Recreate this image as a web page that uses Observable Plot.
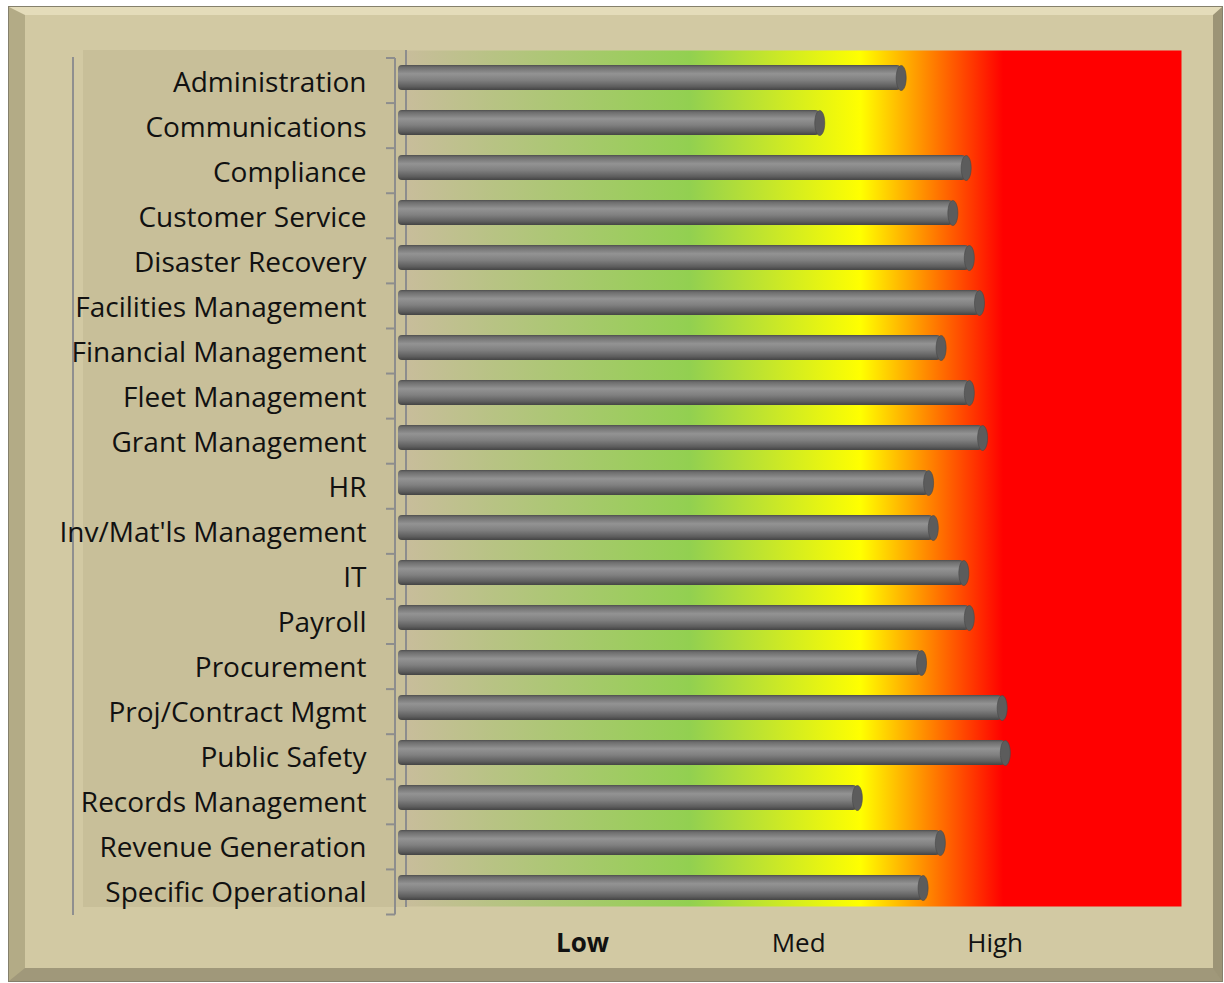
<!DOCTYPE html>
<html>
<head>
<meta charset="utf-8">
<script src="https://cdn.jsdelivr.net/npm/d3@7"></script>
<script src="https://cdn.jsdelivr.net/npm/@observablehq/plot@0.6"></script>
<style>
  html, body { margin: 0; padding: 0; background: #ffffff; }
  #wrap { position: relative; width: 1224px; height: 983px; overflow: hidden; font-family: "Open Sans", sans-serif; }
  #frame { position: absolute; left: 9px; top: 7px; width: 1213px; height: 974px; box-sizing: border-box;
           background: #d2c9a3; border-style: solid; border-width: 8px 9px 13px 16px;
           border-color: #e4dcba #9c9476 #a0987a #b3ab86; box-shadow: 0 0 0 1px #85806c; }
  #panel { position: absolute; left: 83px; top: 50px; width: 323px; height: 857px; background: #c8bf99; }
  #vline { position: absolute; left: 72px; top: 57px; width: 2px; height: 858px; background: #8f8f8f; }
  #chart { position: absolute; left: 0; top: 0; }
</style>
</head>
<body>
<svg width="0" height="0" style="position:absolute">
  <defs>
    <linearGradient id="bgGrad" x1="0" y1="0" x2="1" y2="0">
      <stop offset="0" stop-color="#c8bd9b"/>
      <stop offset="0.366" stop-color="#92d050"/>
      <stop offset="0.586" stop-color="#ffff00"/>
      <stop offset="0.77" stop-color="#ff0000"/>
      <stop offset="1" stop-color="#ff0000"/>
    </linearGradient>
    <linearGradient id="barGrad" x1="0" y1="0" x2="0" y2="1">
      <stop offset="0" stop-color="#4e4e4e"/>
      <stop offset="0.08" stop-color="#6c6c6c"/>
      <stop offset="0.35" stop-color="#939393"/>
      <stop offset="0.6" stop-color="#808080"/>
      <stop offset="0.86" stop-color="#5e5e5e"/>
      <stop offset="1" stop-color="#444444"/>
    </linearGradient>
  </defs>
</svg>
<div id="wrap">
  <div id="frame"></div>
  <div id="panel"></div>
  <div id="vline"></div>
  <div id="chart"></div>
</div>
<script>
const categories = [
  "Administration", "Communications", "Compliance", "Customer Service", "Disaster Recovery",
  "Facilities Management", "Financial Management", "Fleet Management", "Grant Management", "HR",
  "Inv/Mat'ls Management", "IT", "Payroll", "Procurement", "Proj/Contract Mgmt",
  "Public Safety", "Records Management", "Revenue Generation", "Specific Operational"
];
const values = [64.2, 53.8, 72.5, 70.8, 72.9, 74.2, 69.3, 72.9, 74.6, 67.7, 68.3, 72.2, 72.9, 66.8, 77.1, 77.5, 58.6, 69.2, 67.0];
const tickValues = [23.5, 51.1, 76.2];
const tickLabels = ["Low", "Med", "High"];

const data = categories.map((c, i) => ({category: c, value: values[i]}));

// elliptical end cap of the cylinder
const ellipseSymbol = {
  draw(ctx) {
    const rx = 5, ry = 12.5, k = 0.5523;
    ctx.moveTo(rx, 0);
    ctx.bezierCurveTo(rx, ry * k, rx * k, ry, 0, ry);
    ctx.bezierCurveTo(-rx * k, ry, -rx, ry * k, -rx, 0);
    ctx.bezierCurveTo(-rx, -ry * k, -rx * k, -ry, 0, -ry);
    ctx.bezierCurveTo(rx * k, -ry, rx, -ry * k, rx, 0);
    ctx.closePath();
  }
};

const labelFor = d => tickLabels[tickValues.indexOf(d)];

const plot = Plot.plot({
  width: 1224,
  height: 983,
  marginLeft: 406,
  marginRight: 43,
  marginTop: 50,
  marginBottom: 77,
  style: {background: "transparent", fontFamily: "'Open Sans', sans-serif", fontSize: "28px", color: "#111111", overflow: "visible"},
  x: {domain: [0, 100], range: [398, 1181]},
  y: {domain: categories, range: [54, 910.5], paddingInner: 0.445, paddingOuter: 0.2225},
  marks: [
    Plot.frame({fill: "url(#bgGrad)", stroke: "none"}),
    Plot.barX(data, {x: "value", y: "category", fill: "url(#barGrad)", rx: 4}),
    Plot.dot(data, {x: "value", y: "category", symbol: ellipseSymbol, r: 5, fill: "#5c5c5c", stroke: "#484848", strokeWidth: 0.6}),
    Plot.axisY({tickSize: 0, tickPadding: 40, dy: 5, fontSize: 28, label: null}),
    Plot.axisX({ticks: tickValues.slice(0, 1), tickFormat: labelFor, tickSize: 0, tickPadding: 27, fontSize: 26, fontWeight: "bold", label: null}),
    Plot.axisX({ticks: tickValues.slice(1), tickFormat: labelFor, tickSize: 0, tickPadding: 27, fontSize: 26, label: null})
  ]
});

document.getElementById("chart").appendChild(plot);

// 3D-style axis lines and category brackets, derived from the scales
const svg = d3.select(plot);
const ys = plot.scale("y");
const n = ys.domain.length;
const r0 = ys.range[0], r1 = ys.range[1];
const step = (r1 - r0) / n;
const ml = 406;
const deco = svg.insert("g", 'g[aria-label="bar"]').attr("stroke", "#8d8d8d").attr("stroke-width", 2).attr("fill", "none");
deco.append("line").attr("x1", ml).attr("x2", ml).attr("y1", 50).attr("y2", 907);
deco.append("line").attr("x1", ml - 11).attr("x2", ml - 11).attr("y1", r0 + 4).attr("y2", r1 + 4);
d3.range(n + 1).forEach(i => {
  const yy = r0 + 4 + i * step;
  deco.append("line").attr("x1", ml - 20).attr("x2", ml - 11).attr("y1", yy).attr("y2", yy);
});
</script>
</body>
</html>
